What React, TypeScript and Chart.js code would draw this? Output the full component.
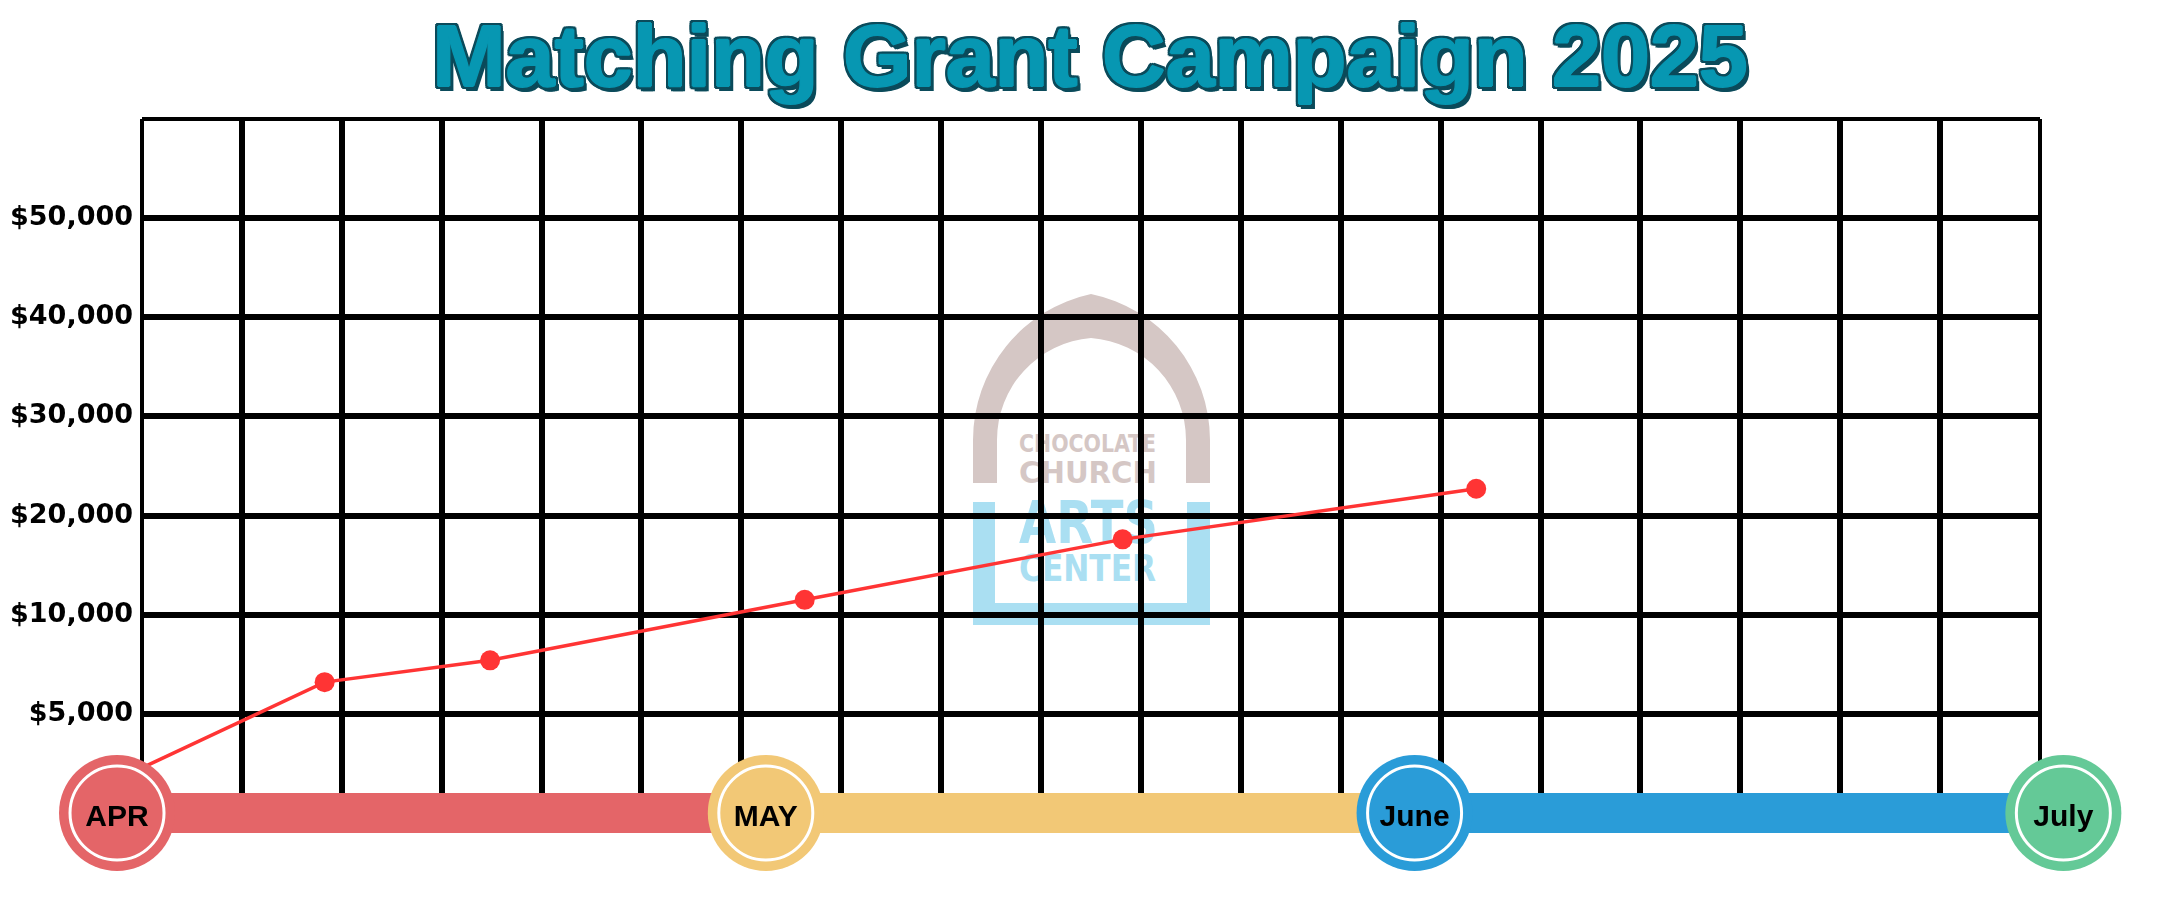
import React, { useEffect, useRef } from 'react';
import { Chart, registerables, LinearScale } from 'chart.js';

// ---------- data ----------
const chartTitle = 'Matching Grant Campaign 2025';
const months = ['APR', 'MAY', 'June', 'July'];
const monthIndex = [0, 1, 2, 3];
const monthColors = ['#E46568', '#F2C876', '#2A9CD8', '#64C997'];
const progressMonth = [0.04, 0.32, 0.575, 1.06, 1.55, 2.095];
const progressRaised = [2300, 6600, 7700, 11500, 17600, 22700];
const yTickValues = [0, 5000, 10000, 20000, 30000, 40000, 50000, 60000];
const yTickLabels = ['', '$5,000', '$10,000', '$20,000', '$30,000', '$40,000', '$50,000', ''];

// axis extents (in month units) and grid columns
const xMin = 0.0385;
const xMax = 2.964;
const gridColumns = 19;

function valueToStep(v: number): number {
  const t = yTickValues;
  if (v <= t[0]) return (v - t[0]) / (t[1] - t[0]);
  for (let i = 1; i < t.length; i++) {
    if (v <= t[i]) return i - 1 + (v - t[i - 1]) / (t[i] - t[i - 1]);
  }
  const n = t.length - 1;
  return n + (v - t[n]) / (t[n] - t[n - 1]);
}
function stepToValue(s: number): number {
  const t = yTickValues;
  const n = t.length - 1;
  const i = Math.max(0, Math.min(n - 1, Math.floor(s)));
  return t[i] + (s - i) * (t[i + 1] - t[i]);
}

class StepScale extends LinearScale {
  static id = 'steps';
  static defaults = LinearScale.defaults;
  buildTicks() {
    return yTickValues.map((v) => ({ value: v }));
  }
  getPixelForValue(value: any) {
    if (value === null || value === undefined || isNaN(value)) return NaN;
    return this.getPixelForDecimal(valueToStep(+value) / (yTickValues.length - 1));
  }
  getValueForPixel(pixel: number) {
    return stepToValue(this.getDecimalForPixel(pixel) * (yTickValues.length - 1));
  }
}

Chart.register(...registerables, StepScale as any);

const monthLabelPlugin = {
  id: 'monthLabels',
  afterDatasetsDraw(chart: any) {
    const { ctx } = chart;
    const x = chart.scales.x;
    const y = chart.scales.y;
    ctx.save();
    ctx.font = 'bold 30px "Liberation Sans", Arial, sans-serif';
    ctx.fillStyle = '#000';
    ctx.textAlign = 'center';
    ctx.textBaseline = 'alphabetic';
    months.forEach((m, i) => {
      ctx.fillText(m, x.getPixelForValue(monthIndex[i]), y.getPixelForValue(0) + 13);
    });
    ctx.restore();
  },
};

const fillTeal = '#0797B2';
const outline = '#0B4B5B';
const shadowParts: string[] = [];
for (const [dx, dy] of [[-1, 0], [1, 0], [0, -1], [0, 1]]) {
  shadowParts.push(`${dx}px ${dy}px 0 ${fillTeal}`);
}
for (const [dx, dy] of [[-3, -2], [0, -3], [3, -2], [-3, 0], [3, 0], [-3, 2], [0, 3], [3, 2], [-2, -3], [2, -3], [-2, 3], [2, 3], [3, 4], [4, 5], [2, 5]]) {
  shadowParts.push(`${dx}px ${dy}px 0 ${outline}`);
}

export default function App() {
  const canvasRef = useRef<HTMLCanvasElement | null>(null);

  useEffect(() => {
    if (!canvasRef.current) return;
    const timeline = monthIndex.map((m) => ({ x: m, y: 0 }));
    const chart = new Chart(canvasRef.current, {
      type: 'line',
      data: {
        datasets: [
          {
            label: 'rings',
            data: timeline,
            showLine: false,
            pointRadius: 47,
            pointBackgroundColor: 'rgba(0,0,0,0)',
            pointBorderColor: '#FFFFFF',
            pointBorderWidth: 3,
            order: 1,
            clip: false,
          } as any,
          {
            label: 'months',
            data: timeline,
            showLine: false,
            pointRadius: 58,
            pointBackgroundColor: monthColors,
            pointBorderWidth: 0,
            order: 2,
            clip: false,
          },
          {
            label: 'Raised',
            data: progressMonth.map((m, i) => ({ x: m, y: progressRaised[i] })),
            borderColor: '#FF3434',
            backgroundColor: '#FF3434',
            borderWidth: 3.5,
            pointRadius: (ctx: any) => (ctx.dataIndex === 0 ? 0 : 10),
            pointBorderWidth: 0,
            tension: 0,
            order: 3,
            clip: false,
          },
          {
            label: 'timeline',
            data: timeline,
            borderWidth: 40,
            borderColor: monthColors[0],
            borderCapStyle: 'butt',
            segment: { borderColor: (ctx: any) => monthColors[ctx.p0DataIndex] },
            pointRadius: 0,
            order: 4,
            clip: false,
          } as any,
        ],
      },
      options: {
        animation: false,
        responsive: true,
        maintainAspectRatio: false,
        events: [],
        layout: { padding: { top: 119, right: 2180 - 2040, bottom: 900 - 813, left: 0 } },
        plugins: {
          legend: { display: false },
          tooltip: { enabled: false },
          title: { display: false },
        },
        scales: {
          x: {
            type: 'linear',
            min: xMin,
            max: xMax,
            afterBuildTicks: (scale: any) => {
              scale.ticks = Array.from({ length: gridColumns + 1 }, (_, i) => ({
                value: xMin + ((xMax - xMin) * i) / gridColumns,
              }));
            },
            afterFit: (scale: any) => {
              scale.height = 0;
            },
            ticks: { display: false },
            grid: {
              color: '#000',
              drawTicks: false,
              lineWidth: (ctx: any) => (ctx.index === 0 || ctx.index === gridColumns ? 4 : 6),
            },
            border: { display: false },
          },
          y: {
            type: 'steps' as any,
            min: 0,
            max: 60000,
            afterFit: (scale: any) => {
              scale.width = 142;
            },
            ticks: {
              callback: (v: any) => yTickLabels[yTickValues.indexOf(+v)] ?? '',
              color: '#000',
              font: { family: '"DejaVu Sans", sans-serif', weight: 'bold', size: 27 },
              padding: 9,
              autoSkip: false,
            },
            grid: {
              color: '#000',
              drawTicks: false,
              lineWidth: (ctx: any) => (ctx.index === yTickValues.length - 1 ? 4 : 6),
            },
            border: { display: false },
          } as any,
        },
      },
      plugins: [monthLabelPlugin],
    } as any);
    return () => chart.destroy();
  }, []);

  const taupe = '#D5C7C5';
  const sky = '#AADFF2';
  const logoFont = '"Liberation Sans Narrow", "DejaVu Sans Condensed", "Liberation Sans", sans-serif';

  return (
    <div style={{ position: 'fixed', left: 0, top: 0, width: 2180, height: 900, background: '#fff', overflow: 'hidden' }}>
      <svg width={2180} height={900} style={{ position: 'absolute', left: 0, top: 0 }}>
        <path
          d="M973 483 L973 440 A149.3 149.3 0 0 1 1091 294 A149.3 149.3 0 0 1 1210 440 L1210 483 L1186 483 L1186 440 A102.3 102.3 0 0 0 1091 338 A102.3 102.3 0 0 0 997 440 L997 483 Z"
          fill={taupe}
        />
        <path d="M973 502 H995 V603 H1187 V502 H1210 V625 H973 Z" fill={sky} />
        <text x={1019} y={452} textLength={137} lengthAdjust="spacingAndGlyphs" fontSize={25} fontWeight={700} fontFamily={logoFont} fill={taupe}>CHOCOLATE</text>
        <text x={1019} y={483} textLength={138} lengthAdjust="spacingAndGlyphs" fontSize={31} fontWeight={700} fontFamily={logoFont} fill={taupe}>CHURCH</text>
        <text x={1019} y={543} textLength={139} lengthAdjust="spacingAndGlyphs" fontSize={58} fontWeight={700} fontFamily={logoFont} fill={sky}>ARTS</text>
        <text x={1019} y={581} textLength={137} lengthAdjust="spacingAndGlyphs" fontSize={37} fontWeight={700} fontFamily={logoFont} fill={sky}>CENTER</text>
      </svg>
      <div style={{ position: 'absolute', left: 0, top: 0, width: 2180, height: 900 }}>
        <canvas ref={canvasRef} />
      </div>
      <div
        style={{
          position: 'absolute',
          left: 0,
          top: 12,
          width: 2180,
          textAlign: 'center',
          fontFamily: '"Liberation Sans", Arial, sans-serif',
          fontWeight: 700,
          fontSize: 88,
          lineHeight: '88px',
          color: fillTeal,
          textShadow: shadowParts.join(', '),
          whiteSpace: 'nowrap',
        }}
      >
        {chartTitle}
      </div>
    </div>
  );
}
